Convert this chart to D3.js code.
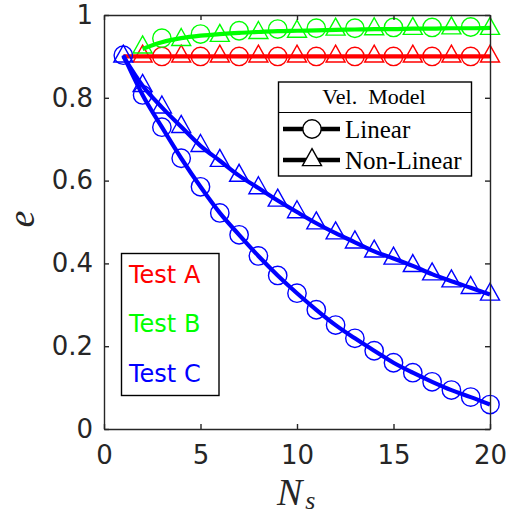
<!DOCTYPE html>
<html>
<head>
<meta charset="utf-8">
<script src="https://cdn.jsdelivr.net/npm/d3@7"></script>
<style>
  body { margin: 0; background: #fff; }
  svg { display: block; }
</style>
</head>
<body>
<svg id="chart" width="516" height="515"></svg>
<script>
// ---------------- data ----------------
const xTicks = [0, 5, 10, 15, 20];
const yTicks = [0, 0.2, 0.4, 0.6, 0.8, 1];
const xTickLabels = ["0", "5", "10", "15", "20"];
const yTickLabels = ["0", "0.2", "0.4", "0.6", "0.8", "1"];

const nsAll = [1,2,3,4,5,6,7,8,9,10,11,12,13,14,15,16,17,18,19,20];
const nsOdd = [3,5,7,9,11,13,15,17,19];
const nsEven = [2,4,6,8,10,12,14,16,18,20];
const nsFromTwo = [2,3,4,5,6,7,8,9,10,11,12,13,14,15,16,17,18,19,20];

// Test A (red)
const testALine = [0.9,0.9,0.9,0.9,0.9,0.9,0.9,0.9,0.9,0.9,0.9,0.9,0.9,0.9,0.9,0.9,0.9,0.9,0.9,0.9];
const testALinear = [0.9,0.9,0.9,0.9,0.9,0.9,0.9,0.9,0.9];
const testANonLinear = [0.9,0.9,0.9,0.9,0.9,0.9,0.9,0.9,0.9,0.9];

// Test B (green)
const testBLine = [0.918,0.934,0.944,0.950,0.954,0.957,0.959,0.961,0.962,0.963,0.964,0.965,0.966,0.966,0.967,0.967,0.968,0.968,0.969];
const testBLinear = [0.944,0.954,0.962,0.966,0.968,0.968,0.970,0.970,0.971];
const testBNonLinear = [0.922,0.940,0.950,0.957,0.960,0.965,0.966,0.967,0.968,0.967];

// Test C (blue)
const testCLinear = [0.903,0.807,0.729,0.654,0.585,0.522,0.469,0.418,0.371,0.328,0.288,0.251,0.219,0.189,0.160,0.136,0.114,0.094,0.077,0.059];
const testCNonLinear = [0.900,0.829,0.777,0.730,0.684,0.648,0.612,0.582,0.552,0.524,0.497,0.473,0.451,0.429,0.412,0.394,0.374,0.357,0.341,0.325];

const testNames = ["Test A", "Test B", "Test C"];
const testColors = ["#ff0000", "#00ff00", "#0000ff"];
const modelNames = ["Linear", "Non-Linear"];

// ---------------- drawing ----------------
const svg = d3.select("#chart");
const x = d3.scaleLinear().domain([0, 20]).range([104, 490]);
const y = d3.scaleLinear().domain([0, 1]).range([429, 15]);

const axisColor = "#262626";
const tickFont = "'DejaVu Sans', sans-serif";
const serif = "'Liberation Serif', 'Times New Roman', serif";

const R = 9.2;          // circle radius
const TW = 19, TH = 17; // triangle width/height
const circlePath = d3.path();
circlePath.arc(0, 0, R, 0, 2 * Math.PI);
const triPath = `M0,${-TH*2/3}L${TW/2},${TH/3}L${-TW/2},${TH/3}Z`;

function markers(g, xs, vals, color, kind) {
  g.selectAll(null).data(xs.map((d, i) => [d, vals[i]])).enter()
    .append("path")
    .attr("transform", d => `translate(${x(d[0])},${y(d[1])})`)
    .attr("d", kind === "circle" ? circlePath.toString() : triPath)
    .attr("fill", "none")
    .attr("stroke", color)
    .attr("stroke-width", 1.4);
}
function line(g, xs, vals, color) {
  const gen = d3.line().x(d => x(d[0])).y(d => y(d[1])).curve(d3.curveMonotoneX);
  g.append("path")
    .attr("d", gen(xs.map((d, i) => [d, vals[i]])))
    .attr("fill", "none")
    .attr("stroke", color)
    .attr("stroke-width", 4.2)
    .attr("stroke-linejoin", "round");
}

const plot = svg.append("g");
// Test A
markers(plot, nsOdd, testALinear, testColors[0], "circle");
markers(plot, nsEven, testANonLinear, testColors[0], "tri");
line(plot, nsAll, testALine, testColors[0]);
// Test B
markers(plot, nsOdd, testBLinear, testColors[1], "circle");
markers(plot, nsEven, testBNonLinear, testColors[1], "tri");
line(plot, nsFromTwo, testBLine, testColors[1]);
// Test C
markers(plot, nsAll, testCLinear, testColors[2], "circle");
line(plot, nsAll, testCLinear, testColors[2]);
markers(plot, nsAll, testCNonLinear, testColors[2], "tri");
line(plot, nsAll, testCNonLinear, testColors[2]);

// ---------------- axes (box with inward ticks) ----------------
function styleAxis(g) {
  g.select(".domain").attr("stroke", axisColor).attr("stroke-width", 1.4);
  g.selectAll(".tick line").attr("stroke", axisColor).attr("stroke-width", 1.4);
  g.selectAll(".tick text").attr("fill", axisColor)
    .style("font-family", tickFont).style("font-size", "26px");
}
const ax = svg.append("g");
ax.append("g").attr("transform", `translate(0,${y(0)})`)
  .call(d3.axisBottom(x).tickValues(xTicks).tickFormat((d, i) => xTickLabels[i])
    .tickSizeInner(-5).tickSizeOuter(0).tickPadding(17))
  .call(styleAxis);
ax.append("g").attr("transform", `translate(0,${y(1)})`)
  .call(d3.axisTop(x).tickValues(xTicks).tickFormat("")
    .tickSizeInner(-5).tickSizeOuter(0))
  .call(styleAxis);
ax.append("g").attr("transform", `translate(${x(0)},0)`)
  .call(d3.axisLeft(y).tickValues(yTicks).tickFormat((d, i) => yTickLabels[i])
    .tickSizeInner(-5).tickSizeOuter(0).tickPadding(11))
  .call(styleAxis);
ax.append("g").attr("transform", `translate(${x(20)},0)`)
  .call(d3.axisRight(y).tickValues(yTicks).tickFormat("")
    .tickSizeInner(-5).tickSizeOuter(0))
  .call(styleAxis);
ax.selectAll("text").attr("font-family", null);

// axis labels
const xl = svg.append("text")
  .attr("x", 277).attr("y", 505)
  .attr("fill", axisColor)
  .style("font-family", serif).style("font-style", "italic");
xl.append("tspan").style("font-size", "38px").text("N");
xl.append("tspan").style("font-size", "26px").attr("dx", 3).attr("dy", 4).text("s");

svg.append("text")
  .attr("transform", "translate(34,219) rotate(-90)")
  .attr("text-anchor", "middle")
  .attr("fill", axisColor)
  .style("font-family", serif).style("font-style", "italic").style("font-size", "38px")
  .text("e");

// ---------------- legend: Vel. Model ----------------
const lg = svg.append("g");
lg.append("rect").attr("x", 278.5).attr("y", 82).attr("width", 193).attr("height", 94)
  .attr("fill", "#fff").attr("stroke", "#000").attr("stroke-width", 1.4);
lg.append("line").attr("x1", 278.5).attr("x2", 471.5).attr("y1", 112.5).attr("y2", 112.5)
  .attr("stroke", "#000").attr("stroke-width", 1.2);
lg.append("text").attr("x", 374).attr("y", 103.5).attr("text-anchor", "middle")
  .attr("xml:space", "preserve")
  .style("font-family", serif).style("font-size", "22px").attr("fill", "#000")
  .text("Vel.  Model");
const rowsY = [129, 160];
modelNames.forEach((name, i) => {
  lg.append("line").attr("x1", 283).attr("x2", 340).attr("y1", rowsY[i]).attr("y2", rowsY[i])
    .attr("stroke", "#000").attr("stroke-width", 4.5);
  lg.append("path")
    .attr("transform", `translate(312,${rowsY[i]})`)
    .attr("d", i === 0 ? circlePath.toString() : triPath)
    .attr("fill", "#fff").attr("stroke", "#000").attr("stroke-width", 1.4);
  lg.append("text").attr("x", 345).attr("y", rowsY[i] + 9)
    .style("font-family", serif).style("font-size", "25px").attr("fill", "#000")
    .text(name);
});

// ---------------- legend: tests ----------------
const tg = svg.append("g");
tg.append("rect").attr("x", 121.5).attr("y", 253.5).attr("width", 97.5).attr("height", 142)
  .attr("fill", "#fff").attr("stroke", "#000").attr("stroke-width", 1.4);
const testBaselines = [282.5, 332, 381.5];
testNames.forEach((name, i) => {
  tg.append("text").attr("x", 129).attr("y", testBaselines[i])
    .style("font-family", tickFont).style("font-size", "24px")
    .attr("fill", testColors[i]).text(name);
});
</script>
</body>
</html>
